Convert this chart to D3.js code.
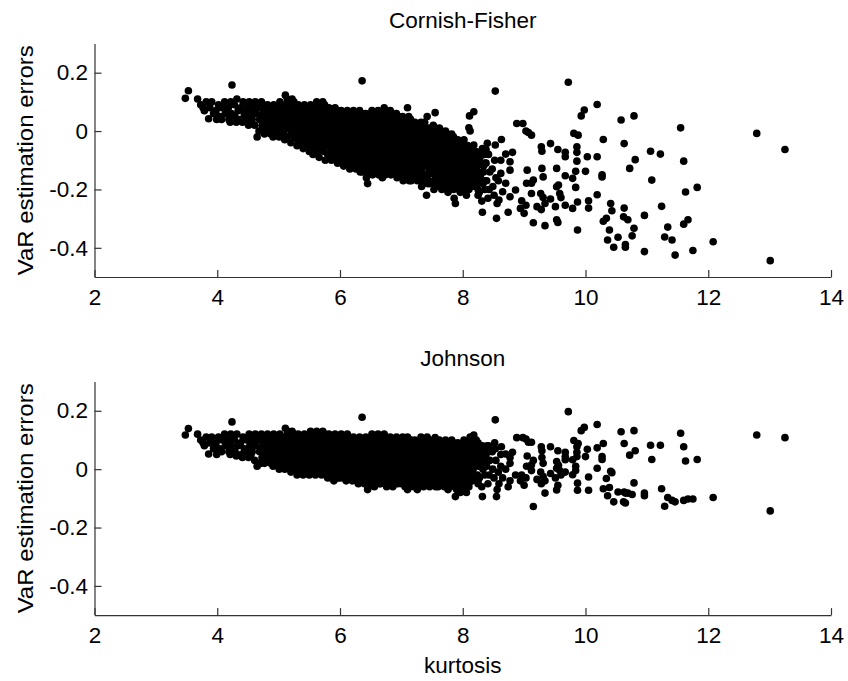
<!DOCTYPE html>
<html>
<head>
<meta charset="utf-8">
<script src="https://cdn.jsdelivr.net/npm/d3@7"></script>
<style>
	body { margin: 0; background: #fff; }
	text { font-family: Arial, "Liberation Sans", sans-serif; fill: #000; }
</style>
</head>
<body>
<svg id="chart" width="848" height="681"></svg>
<script>
// [kurtosis, Cornish-Fisher error, Johnson error] - dense part of the cloud
var coreSamples = [
	[3.48,0.112,0.117],[3.53,0.138,0.139],
	[3.68,0.11,0.12],[3.73,0.09,0.10],[3.77,0.08,0.09],[3.86,0.042,0.052],[3.82,0.10,0.11],[3.79,0.07,0.08],
	[3.91,0.10,0.11],[3.88,0.08,0.09],[3.94,0.06,0.07],
	[4.02,0.09,0.11],[3.98,0.07,0.09],[4.04,0.05,0.07],[3.99,0.04,0.05],
	[4.12,0.10,0.12],[4.08,0.08,0.10],[4.13,0.06,0.08],[4.07,0.04,0.06],
	[4.24,0.158,0.162],
	[4.22,0.10,0.12],[4.18,0.08,0.10],[4.23,0.06,0.08],[4.19,0.04,0.06],[4.21,0.03,0.05],
	[4.32,0.11,0.12],[4.28,0.09,0.10],[4.34,0.07,0.08],[4.29,0.05,0.06],[4.31,0.03,0.045],
	[4.42,0.10,0.11],[4.38,0.08,0.09],[4.44,0.06,0.07],[4.39,0.04,0.05],[4.41,0.03,0.04],
	[4.52,0.10,0.12],[4.48,0.08,0.10],[4.53,0.06,0.08],[4.47,0.04,0.06],[4.51,0.02,0.04],
	[4.62,0.10,0.12],[4.58,0.08,0.10],[4.63,0.06,0.08],[4.57,0.04,0.06],[4.61,0.02,0.03],
	[4.65,-0.02,0.01],[4.68,0.0,0.02],
	[4.72,0.10,0.12],[4.68,0.08,0.10],[4.74,0.06,0.08],[4.69,0.04,0.06],[4.73,0.02,0.04],[4.71,0.0,0.02],
	[4.82,0.09,0.12],[4.78,0.07,0.10],[4.84,0.05,0.08],[4.79,0.03,0.06],[4.83,0.01,0.04],[4.77,-0.01,0.02],
	[4.92,0.09,0.12],[4.88,0.07,0.10],[4.94,0.05,0.08],[4.89,0.03,0.06],[4.93,0.01,0.04],[4.87,-0.01,0.02],[4.91,-0.02,0.01],
	[5.02,0.10,0.12],[4.98,0.08,0.10],[5.04,0.06,0.08],[4.99,0.04,0.06],[5.03,0.02,0.04],[4.97,0.0,0.02],[5.01,-0.02,0.0],
	[5.11,0.123,0.14],[5.14,0.11,0.12],[5.08,0.08,0.10],[5.13,0.06,0.08],[5.07,0.04,0.06],[5.12,0.02,0.04],[5.09,0.0,0.02],[5.10,-0.03,0.0],
	[5.22,0.11,0.13],[5.18,0.09,0.11],[5.24,0.07,0.09],[5.19,0.05,0.07],[5.23,0.03,0.05],[5.17,0.01,0.03],[5.21,-0.01,0.01],[5.20,-0.04,-0.01],
	[5.32,0.09,0.12],[5.28,0.07,0.10],[5.34,0.05,0.08],[5.29,0.03,0.06],[5.33,0.01,0.04],[5.27,-0.01,0.02],[5.31,-0.03,0.0],[5.30,-0.05,-0.02],
	[5.42,0.09,0.12],[5.38,0.07,0.10],[5.44,0.05,0.08],[5.39,0.03,0.06],[5.43,0.01,0.04],[5.37,-0.01,0.02],[5.41,-0.03,0.0],[5.45,-0.05,-0.01],[5.40,-0.06,-0.02],
	[5.52,0.09,0.13],[5.48,0.07,0.11],[5.54,0.05,0.09],[5.49,0.03,0.07],[5.53,0.01,0.05],[5.47,-0.01,0.03],[5.51,-0.03,0.01],[5.55,-0.05,-0.01],[5.50,-0.07,-0.02],
	[5.62,0.10,0.13],[5.58,0.08,0.11],[5.64,0.06,0.09],[5.59,0.04,0.07],[5.63,0.02,0.05],[5.57,0.0,0.03],[5.61,-0.02,0.01],[5.65,-0.04,-0.01],[5.60,-0.06,-0.02],[5.56,-0.08,0.0],
	[5.72,0.10,0.13],[5.68,0.08,0.11],[5.74,0.06,0.09],[5.69,0.04,0.07],[5.73,0.02,0.05],[5.67,0.0,0.03],[5.71,-0.02,0.01],[5.75,-0.04,-0.01],[5.70,-0.06,-0.02],[5.66,-0.09,0.04],
	[5.82,0.08,0.12],[5.78,0.06,0.10],[5.84,0.04,0.08],[5.79,0.02,0.06],[5.83,0.0,0.04],[5.77,-0.02,0.02],[5.81,-0.04,0.0],[5.85,-0.06,-0.02],[5.80,-0.08,-0.03],[5.76,-0.10,0.05],
	[5.92,0.08,0.12],[5.88,0.06,0.10],[5.94,0.04,0.08],[5.89,0.02,0.06],[5.93,0.0,0.04],[5.87,-0.02,0.02],[5.91,-0.04,0.0],[5.95,-0.06,-0.02],[5.90,-0.08,-0.04],[5.86,-0.10,0.07],[5.96,-0.11,0.03],
	[6.02,0.07,0.12],[5.98,0.05,0.10],[6.04,0.03,0.08],[5.99,0.01,0.06],[6.03,-0.01,0.04],[5.97,-0.03,0.02],[6.01,-0.05,0.0],[6.05,-0.07,-0.02],[6.00,-0.09,-0.03],[6.06,-0.11,0.05],
	[6.12,0.07,0.12],[6.08,0.05,0.10],[6.14,0.03,0.08],[6.09,0.01,0.06],[6.13,-0.01,0.04],[6.07,-0.03,0.02],[6.11,-0.05,0.0],[6.15,-0.07,-0.02],[6.10,-0.09,-0.04],[6.16,-0.11,0.05],[6.06,-0.12,0.03],
	[6.22,0.07,0.11],[6.18,0.05,0.09],[6.24,0.03,0.07],[6.19,0.01,0.05],[6.23,-0.01,0.03],[6.17,-0.03,0.01],[6.21,-0.05,-0.01],[6.25,-0.07,-0.03],[6.20,-0.09,-0.04],[6.26,-0.11,0.06],[6.16,-0.13,0.02],
	[6.32,0.07,0.11],[6.28,0.05,0.09],[6.34,0.03,0.07],[6.29,0.01,0.05],[6.33,-0.01,0.03],[6.27,-0.03,0.01],[6.31,-0.05,-0.01],[6.35,-0.07,-0.03],[6.30,-0.09,-0.05],[6.36,-0.11,0.06],[6.26,-0.13,0.02],[6.33,-0.14,0.04],
	[6.36,0.172,0.178],
	[6.42,0.06,0.11],[6.38,0.04,0.09],[6.44,0.02,0.07],[6.39,0.0,0.05],[6.43,-0.02,0.03],[6.37,-0.04,0.01],[6.41,-0.06,-0.01],[6.45,-0.08,-0.03],[6.40,-0.10,-0.05],[6.46,-0.12,-0.06],[6.36,-0.14,0.06],[6.43,-0.16,0.02],
	[6.45,-0.18,-0.07],
	[6.52,0.07,0.12],[6.48,0.05,0.10],[6.54,0.03,0.08],[6.49,0.01,0.06],[6.53,-0.01,0.04],[6.47,-0.03,0.02],[6.51,-0.05,0.0],[6.55,-0.07,-0.02],[6.50,-0.09,-0.04],[6.56,-0.11,-0.06],[6.46,-0.13,0.05],[6.53,-0.15,0.03],
	[6.62,0.07,0.12],[6.58,0.05,0.10],[6.64,0.03,0.08],[6.59,0.01,0.06],[6.63,-0.01,0.04],[6.57,-0.03,0.02],[6.61,-0.05,0.0],[6.65,-0.07,-0.02],[6.60,-0.09,-0.04],[6.66,-0.11,-0.05],[6.56,-0.13,0.07],[6.63,-0.15,0.01],
	[6.72,0.08,0.12],[6.68,0.06,0.10],[6.74,0.04,0.08],[6.69,0.02,0.06],[6.73,0.0,0.04],[6.67,-0.02,0.02],[6.71,-0.04,0.0],[6.75,-0.06,-0.02],[6.70,-0.08,-0.04],[6.76,-0.10,-0.06],[6.66,-0.12,0.05],[6.73,-0.14,0.03],[6.69,-0.16,0.01],
	[6.82,0.07,0.11],[6.78,0.05,0.09],[6.84,0.03,0.07],[6.79,0.01,0.05],[6.83,-0.01,0.03],[6.77,-0.03,0.01],[6.81,-0.05,-0.01],[6.85,-0.07,-0.03],[6.80,-0.09,-0.05],[6.86,-0.11,-0.06],[6.76,-0.13,0.06],[6.83,-0.15,0.02],
	[6.92,0.06,0.11],[6.88,0.04,0.09],[6.94,0.02,0.07],[6.89,0.0,0.05],[6.93,-0.02,0.03],[6.87,-0.04,0.01],[6.91,-0.06,-0.01],[6.95,-0.08,-0.03],[6.90,-0.10,-0.05],[6.96,-0.12,0.06],[6.86,-0.14,0.02],[6.93,-0.16,0.0],
	[7.02,0.05,0.11],[6.98,0.03,0.09],[7.04,0.01,0.07],[6.99,-0.01,0.05],[7.03,-0.03,0.03],[6.97,-0.05,0.01],[7.01,-0.07,-0.01],[7.05,-0.09,-0.03],[7.00,-0.11,-0.05],[7.06,-0.13,-0.06],[6.96,-0.15,0.04],[7.03,-0.17,0.0],
	[7.10,0.08,0.11],[7.12,0.05,0.09],[7.08,0.03,0.07],[7.14,0.01,0.05],[7.09,-0.01,0.03],[7.13,-0.03,0.01],[7.07,-0.05,-0.01],[7.11,-0.07,-0.03],[7.15,-0.09,-0.05],[7.10,-0.11,-0.07],[7.16,-0.13,0.06],[7.06,-0.15,0.02],[7.13,-0.17,0.0],
	[7.22,0.03,0.10],[7.18,0.01,0.08],[7.24,-0.01,0.06],[7.19,-0.03,0.04],[7.23,-0.05,0.02],[7.17,-0.07,0.0],[7.21,-0.09,-0.02],[7.25,-0.11,-0.04],[7.20,-0.13,-0.06],[7.26,-0.15,-0.07],[7.16,-0.17,0.05],
	[7.32,0.03,0.11],[7.28,0.01,0.09],[7.34,-0.01,0.07],[7.29,-0.03,0.05],[7.33,-0.05,0.03],[7.27,-0.07,0.01],[7.31,-0.09,-0.01],[7.35,-0.11,-0.03],[7.30,-0.13,-0.05],[7.36,-0.15,-0.06],[7.26,-0.17,0.04],[7.33,-0.19,0.0],
	[7.42,0.05,0.11],[7.38,0.03,0.09],[7.44,0.0,0.07],[7.39,-0.02,0.05],[7.43,-0.04,0.03],[7.37,-0.06,0.01],[7.41,-0.08,-0.01],[7.45,-0.10,-0.03],[7.40,-0.12,-0.05],[7.46,-0.14,-0.06],[7.36,-0.16,0.04],[7.43,-0.18,0.02],[7.41,-0.22,-0.02],
	[7.52,0.02,0.10],[7.48,0.0,0.08],[7.54,-0.02,0.06],[7.49,-0.04,0.04],[7.53,-0.06,0.02],[7.47,-0.08,0.0],[7.51,-0.10,-0.02],[7.55,-0.12,-0.04],[7.50,-0.14,-0.05],[7.56,-0.16,-0.06],[7.46,-0.18,0.05],[7.53,-0.20,0.01],
	[7.62,0.01,0.10],[7.58,-0.01,0.08],[7.64,-0.03,0.06],[7.59,-0.05,0.04],[7.63,-0.07,0.02],[7.57,-0.09,0.0],[7.61,-0.11,-0.02],[7.65,-0.13,-0.04],[7.60,-0.15,-0.06],[7.66,-0.17,0.03],[7.56,-0.19,-0.01],
	[7.72,0.0,0.10],[7.68,-0.02,0.08],[7.74,-0.04,0.06],[7.69,-0.06,0.04],[7.73,-0.08,0.02],[7.67,-0.10,0.0],[7.71,-0.12,-0.02],[7.75,-0.14,-0.04],[7.70,-0.16,-0.06],[7.76,-0.18,0.05],[7.66,-0.20,0.01],
	[7.82,-0.01,0.10],[7.78,-0.03,0.08],[7.84,-0.05,0.06],[7.79,-0.07,0.04],[7.83,-0.09,0.02],[7.77,-0.11,0.0],[7.81,-0.13,-0.02],[7.85,-0.15,-0.04],[7.80,-0.17,-0.06],[7.86,-0.19,0.03],[7.76,-0.21,-0.07],
	[7.92,-0.03,0.09],[7.88,-0.05,0.07],[7.94,-0.07,0.05],[7.89,-0.09,0.03],[7.93,-0.11,0.01],[7.87,-0.13,-0.01],[7.91,-0.15,-0.03],[7.95,-0.17,-0.05],[7.90,-0.19,-0.07],[7.96,-0.21,-0.08],[7.86,-0.23,0.02],
	[8.02,-0.03,0.10],[7.98,-0.06,0.08],[8.04,-0.08,0.06],[7.99,-0.10,0.04],[8.03,-0.12,0.02],[7.97,-0.14,0.0],[8.01,-0.16,-0.02],[8.05,-0.18,-0.04],[8.00,-0.20,-0.06],[8.06,-0.22,-0.08],
	[8.12,0.0,0.11],[8.08,-0.05,0.09],[8.14,-0.08,0.07],[8.09,-0.10,0.05],[8.13,-0.12,0.03],[8.07,-0.14,0.01],[8.11,-0.16,-0.01],[8.15,-0.18,-0.04],[8.10,-0.20,-0.06],
	[8.22,-0.07,0.10],[8.18,-0.09,0.08],[8.24,-0.11,0.06],[8.19,-0.13,0.04],[8.23,-0.15,0.02],[8.17,-0.17,0.0],[8.21,-0.19,-0.03],[8.25,-0.22,-0.05],
	[8.32,-0.06,0.08],[8.28,-0.09,0.06],[8.34,-0.12,0.04],[8.29,-0.15,0.02],[8.33,-0.18,0.0],[8.27,-0.21,-0.03],[8.31,-0.24,-0.06],
	[8.42,-0.08,0.08],[8.38,-0.11,0.05],[8.44,-0.14,0.03],[8.39,-0.17,0.01],[8.43,-0.20,-0.02],[8.41,-0.23,-0.05],
	[8.52,-0.10,0.09],[8.48,-0.13,0.06],[8.54,-0.16,0.03],[8.49,-0.19,0.0],[8.51,-0.22,-0.03],
	[8.62,-0.10,0.05],[8.58,-0.17,-0.01]
];

// [kurtosis, Cornish-Fisher error, Johnson error] - points packed between the columns above
var coreInfill = [
	[4.55,0.09,0.11],[4.56,0.07,0.09],[4.54,0.05,0.07],[4.55,0.03,0.05],
	[4.75,0.09,0.11],[4.76,0.07,0.09],[4.74,0.05,0.07],[4.75,0.03,0.05],[4.76,0.01,0.03],
	[4.85,0.08,0.11],[4.86,0.06,0.09],[4.84,0.04,0.07],[4.85,0.02,0.05],[4.86,0.0,0.03],
	[4.95,0.08,0.11],[4.96,0.06,0.09],[4.94,0.04,0.07],[4.95,0.02,0.05],[4.96,0.0,0.03],
	[5.05,0.09,0.11],[5.06,0.07,0.09],[5.04,0.05,0.07],[5.05,0.03,0.05],[5.06,0.01,0.03],[5.04,-0.01,0.01],
	[5.15,0.10,0.13],[5.16,0.07,0.11],[5.14,0.05,0.09],[5.15,0.03,0.07],[5.16,0.01,0.05],[5.14,-0.02,0.01],
	[5.25,0.10,0.12],[5.26,0.08,0.10],[5.24,0.06,0.08],[5.25,0.04,0.06],[5.26,0.02,0.04],[5.24,0.0,0.02],[5.25,-0.02,0.0],
	[5.35,0.08,0.11],[5.36,0.06,0.09],[5.34,0.04,0.07],[5.35,0.02,0.05],[5.36,0.0,0.03],[5.34,-0.02,0.01],[5.35,-0.04,-0.01],
	[5.45,0.08,0.11],[5.46,0.06,0.09],[5.44,0.04,0.07],[5.45,0.02,0.05],[5.46,0.0,0.03],[5.44,-0.02,0.01],[5.45,-0.04,-0.01],
	[5.55,0.08,0.12],[5.56,0.06,0.10],[5.54,0.04,0.08],[5.55,0.02,0.06],[5.56,0.0,0.04],[5.54,-0.02,0.02],[5.55,-0.04,0.0],[5.56,-0.06,-0.01],
	[5.65,0.09,0.12],[5.66,0.07,0.10],[5.64,0.05,0.08],[5.65,0.03,0.06],[5.66,0.01,0.04],[5.64,-0.01,0.02],[5.65,-0.03,0.0],[5.66,-0.05,-0.01],[5.64,-0.07,0.12],
	[5.75,0.09,0.12],[5.76,0.07,0.10],[5.74,0.05,0.08],[5.75,0.03,0.06],[5.76,0.01,0.04],[5.74,-0.01,0.02],[5.75,-0.03,0.0],[5.76,-0.05,-0.01],[5.74,-0.07,0.11],
	[5.85,0.07,0.11],[5.86,0.05,0.09],[5.84,0.03,0.07],[5.85,0.01,0.05],[5.86,-0.01,0.03],[5.84,-0.03,0.01],[5.85,-0.05,-0.01],[5.86,-0.07,-0.03],[5.84,-0.09,0.11],
	[5.95,0.07,0.11],[5.96,0.05,0.09],[5.94,0.03,0.07],[5.95,0.01,0.05],[5.96,-0.01,0.03],[5.94,-0.03,0.01],[5.95,-0.05,-0.01],[5.96,-0.07,-0.03],[5.94,-0.09,0.11],[5.95,-0.10,0.06],
	[6.05,0.06,0.11],[6.06,0.04,0.09],[6.04,0.02,0.07],[6.05,0.0,0.05],[6.06,-0.02,0.03],[6.04,-0.04,0.01],[6.05,-0.06,-0.01],[6.06,-0.08,-0.03],[6.04,-0.10,0.11],
	[6.15,0.06,0.11],[6.16,0.04,0.09],[6.14,0.02,0.07],[6.15,0.0,0.05],[6.16,-0.02,0.03],[6.14,-0.04,0.01],[6.15,-0.06,-0.01],[6.16,-0.08,-0.03],[6.14,-0.10,0.11],[6.15,-0.11,0.06],
	[6.25,0.06,0.10],[6.26,0.04,0.08],[6.24,0.02,0.06],[6.25,0.0,0.04],[6.26,-0.02,0.02],[6.24,-0.04,0.0],[6.25,-0.06,-0.02],[6.26,-0.08,-0.04],[6.24,-0.10,0.10],[6.25,-0.12,0.05],
	[6.35,0.06,0.10],[6.36,0.04,0.08],[6.34,0.02,0.06],[6.35,0.0,0.04],[6.36,-0.02,0.02],[6.34,-0.04,0.0],[6.35,-0.06,-0.02],[6.36,-0.08,-0.04],[6.34,-0.10,0.10],[6.35,-0.12,0.05],
	[6.45,0.05,0.10],[6.46,0.03,0.08],[6.44,0.01,0.06],[6.45,-0.01,0.04],[6.46,-0.03,0.02],[6.44,-0.05,0.0],[6.45,-0.07,-0.02],[6.46,-0.09,-0.04],[6.44,-0.11,-0.05],[6.45,-0.13,0.10],[6.46,-0.15,0.05],
	[6.55,0.06,0.11],[6.56,0.04,0.09],[6.54,0.02,0.07],[6.55,0.0,0.05],[6.56,-0.02,0.03],[6.54,-0.04,0.01],[6.55,-0.06,-0.01],[6.56,-0.08,-0.03],[6.54,-0.10,-0.05],[6.55,-0.12,0.11],[6.56,-0.14,0.06],
	[6.65,0.06,0.11],[6.66,0.04,0.09],[6.64,0.02,0.07],[6.65,0.0,0.05],[6.66,-0.02,0.03],[6.64,-0.04,0.01],[6.65,-0.06,-0.01],[6.66,-0.08,-0.03],[6.64,-0.10,-0.05],[6.65,-0.12,0.11],[6.66,-0.14,0.06],
	[6.75,0.07,0.11],[6.76,0.05,0.09],[6.74,0.03,0.07],[6.75,0.01,0.05],[6.76,-0.01,0.03],[6.74,-0.03,0.01],[6.75,-0.05,-0.01],[6.76,-0.07,-0.03],[6.74,-0.09,-0.05],[6.75,-0.11,0.11],[6.76,-0.13,0.06],[6.74,-0.15,0.02],
	[6.85,0.06,0.10],[6.86,0.04,0.08],[6.84,0.02,0.06],[6.85,0.0,0.04],[6.86,-0.02,0.02],[6.84,-0.04,0.0],[6.85,-0.06,-0.02],[6.86,-0.08,-0.04],[6.84,-0.10,-0.05],[6.85,-0.12,0.10],[6.86,-0.14,0.05],
	[6.95,0.05,0.10],[6.96,0.03,0.08],[6.94,0.01,0.06],[6.95,-0.01,0.04],[6.96,-0.03,0.02],[6.94,-0.05,0.0],[6.95,-0.07,-0.02],[6.96,-0.09,-0.04],[6.94,-0.11,-0.05],[6.95,-0.13,0.10],[6.96,-0.15,0.05],
	[7.05,0.04,0.10],[7.06,0.02,0.08],[7.04,0.0,0.06],[7.05,-0.02,0.04],[7.06,-0.04,0.02],[7.04,-0.06,0.0],[7.05,-0.08,-0.02],[7.06,-0.10,-0.04],[7.04,-0.12,-0.05],[7.05,-0.14,0.10],[7.06,-0.16,0.05],
	[7.15,0.04,0.10],[7.16,0.02,0.08],[7.14,0.0,0.06],[7.15,-0.02,0.04],[7.16,-0.04,0.02],[7.14,-0.06,0.0],[7.15,-0.08,-0.02],[7.16,-0.10,-0.04],[7.14,-0.12,-0.06],[7.15,-0.14,0.10],[7.16,-0.16,0.05],
	[7.25,0.02,0.09],[7.26,0.0,0.07],[7.24,-0.02,0.05],[7.25,-0.04,0.03],[7.26,-0.06,0.01],[7.24,-0.08,-0.01],[7.25,-0.10,-0.03],[7.26,-0.12,-0.05],[7.24,-0.14,0.09],[7.25,-0.16,0.04],
	[7.35,0.02,0.10],[7.36,0.0,0.08],[7.34,-0.02,0.06],[7.35,-0.04,0.04],[7.36,-0.06,0.02],[7.34,-0.08,0.0],[7.35,-0.10,-0.02],[7.36,-0.12,-0.04],[7.34,-0.14,-0.05],[7.35,-0.16,0.10],[7.36,-0.18,0.05],
	[7.45,0.01,0.10],[7.46,-0.01,0.08],[7.44,-0.03,0.06],[7.45,-0.05,0.04],[7.46,-0.07,0.02],[7.44,-0.09,0.0],[7.45,-0.11,-0.02],[7.46,-0.13,-0.04],[7.44,-0.15,0.10],[7.45,-0.17,0.05],
	[7.55,0.01,0.09],[7.56,-0.01,0.07],[7.54,-0.03,0.05],[7.55,-0.05,0.03],[7.56,-0.07,0.01],[7.54,-0.09,-0.01],[7.55,-0.11,-0.03],[7.56,-0.13,-0.05],[7.54,-0.15,0.09],[7.55,-0.17,0.04],[7.56,-0.19,0.0],
	[7.65,0.0,0.09],[7.66,-0.02,0.07],[7.64,-0.04,0.05],[7.65,-0.06,0.03],[7.66,-0.08,0.01],[7.64,-0.10,-0.01],[7.65,-0.12,-0.03],[7.66,-0.14,-0.05],[7.64,-0.16,0.09],[7.65,-0.18,0.04],
	[7.75,-0.01,0.09],[7.76,-0.03,0.07],[7.74,-0.05,0.05],[7.75,-0.07,0.03],[7.76,-0.09,0.01],[7.74,-0.11,-0.01],[7.75,-0.13,-0.03],[7.76,-0.15,-0.05],[7.74,-0.17,0.09],[7.75,-0.19,0.04],
	[7.85,-0.02,0.09],[7.86,-0.04,0.07],[7.84,-0.06,0.05],[7.85,-0.08,0.03],[7.86,-0.10,0.01],[7.84,-0.12,-0.01],[7.85,-0.14,-0.03],[7.86,-0.16,-0.05],[7.84,-0.18,0.09],[7.85,-0.20,0.04],
	[7.95,-0.04,0.08],[7.96,-0.06,0.06],[7.94,-0.08,0.04],[7.95,-0.10,0.02],[7.96,-0.12,0.0],[7.94,-0.14,-0.02],[7.95,-0.16,-0.04],[7.96,-0.18,-0.06],[7.94,-0.20,0.08],
	[8.05,-0.05,0.09],[8.06,-0.07,0.07],[8.04,-0.09,0.05],[8.05,-0.11,0.03],[8.06,-0.13,0.01],[8.04,-0.15,-0.01],[8.05,-0.17,-0.03],[8.06,-0.19,-0.05],
	[8.15,-0.06,0.09],[8.16,-0.09,0.07],[8.14,-0.11,0.05],[8.15,-0.13,0.03],[8.16,-0.15,0.01],[8.14,-0.17,-0.02],[8.15,-0.19,-0.04],
	[8.25,-0.08,0.09],[8.26,-0.10,0.07],[8.24,-0.12,0.05],[8.25,-0.14,0.03],[8.26,-0.16,0.01],[8.24,-0.18,-0.02],[8.25,-0.20,-0.04],
	[8.35,-0.08,0.07],[8.36,-0.11,0.05],[8.34,-0.14,0.03],[8.35,-0.17,0.01],[8.36,-0.20,-0.02]
];

// [kurtosis, Cornish-Fisher error, Johnson error] - sparse high-kurtosis tail
var tailSamples = [
	[8.53,0.137,0.169],[9.72,0.167,0.197],[10.19,0.091,0.153],[9.98,0.072,0.143],[9.93,0.052,0.132],
	[10.58,0.038,0.128],[10.79,0.052,0.132],[11.55,0.011,0.123],[12.79,-0.008,0.117],[13.25,-0.063,0.108],
	[8.88,0.026,0.108],[8.98,0.026,0.108],[9.03,0.0,0.103],[9.07,-0.005,0.092],[9.12,-0.014,0.092],
	[10.29,-0.029,0.088],[9.81,-0.008,0.098],[9.88,-0.014,0.088],[10.63,-0.043,0.088],
	[9.86,-0.054,0.077],[9.86,-0.073,0.058],[9.86,-0.103,0.043],[10.03,-0.088,0.068],[10.19,-0.088,0.073],
	[11.06,-0.069,0.082],[11.22,-0.079,0.082],[10.81,-0.098,0.063],[10.72,-0.128,0.048],[11.60,-0.103,0.077],
	[10.00,-0.138,0.043],[10.27,-0.150,0.043],[10.27,-0.157,0.033],[11.08,-0.168,0.033],[11.63,-0.209,0.028],
	[11.82,-0.193,0.033],[10.19,-0.218,0.003],[10.05,-0.239,-0.027],[10.05,-0.264,-0.072],[10.41,-0.248,-0.007],
	[10.43,-0.273,-0.012],[10.63,-0.264,-0.078],[11.24,-0.258,-0.067],[10.96,-0.289,-0.082],[10.62,-0.294,-0.112],
	[10.69,-0.304,-0.082],[10.34,-0.299,-0.032],[10.29,-0.309,-0.067],[10.79,-0.333,-0.047],[10.39,-0.339,-0.063],
	[11.67,-0.304,-0.102],[11.60,-0.319,-0.107],[11.34,-0.329,-0.097],[10.76,-0.359,-0.087],[11.29,-0.363,-0.127],
	[11.41,-0.373,-0.107],[10.36,-0.373,-0.091],[10.53,-0.364,-0.078],[12.08,-0.379,-0.097],[10.65,-0.389,-0.082],
	[10.65,-0.398,-0.116],[10.46,-0.398,-0.112],[10.96,-0.413,-0.091],[11.75,-0.409,-0.102],[11.46,-0.425,-0.112],
	[13.01,-0.444,-0.143],
	[9.87,-0.339,-0.072],[9.55,-0.313,-0.055],[9.53,-0.304,-0.071],[9.34,-0.324,-0.082],[9.15,-0.314,-0.128],
	[9.28,-0.054,0.077],[9.29,-0.069,0.063],[9.43,-0.043,0.077],[9.55,-0.063,0.063],[9.67,-0.073,0.058],
	[9.67,-0.088,0.043],[9.67,-0.153,0.032],[9.79,-0.162,0.032],[9.84,-0.138,0.01],[9.84,-0.193,-0.005],
	[9.87,-0.243,-0.048],[9.79,-0.265,-0.019],[9.67,-0.254,-0.01],[9.53,-0.128,0.026],[9.53,-0.191,0.003],
	[9.56,-0.185,0.013],[9.58,-0.214,-0.005],[9.60,-0.228,-0.02],[9.51,-0.259,-0.03],[9.43,-0.233,-0.015],
	[9.29,-0.128,0.04],[9.31,-0.157,0.02],[9.27,-0.214,-0.01],[9.31,-0.228,-0.025],[9.34,-0.248,-0.04],
	[9.28,-0.269,-0.05],[9.15,-0.168,0.03],[9.12,-0.179,0.015],[9.05,-0.134,0.045],[9.04,-0.179,0.01],
	[9.12,-0.214,-0.005],[9.03,-0.254,-0.03],[8.96,-0.239,-0.02],[9.00,-0.282,-0.055],[8.94,-0.265,-0.04],
	[9.21,-0.259,-0.035],
	[8.70,-0.079,0.052],[8.81,-0.073,0.058],[8.63,-0.029,0.077],[8.53,-0.048,0.07],[8.40,-0.042,0.08],
	[8.38,-0.063,0.06],[8.18,-0.048,0.05],[8.18,0.066,0.117],[8.11,0.052,0.10],[8.10,0.011,0.09],
	[7.55,0.063,0.108],[7.88,-0.248,-0.094],[8.32,-0.278,-0.094],[8.55,-0.299,-0.094],[8.74,-0.278,-0.06],
	[8.86,-0.202,-0.02],[8.77,-0.225,-0.04],[8.70,-0.179,0.0],[8.77,-0.134,0.02],[8.77,-0.105,0.04],
	[8.62,-0.145,0.01],[8.65,-0.208,-0.03],[8.59,-0.236,-0.05],[8.56,-0.248,-0.07]
];

var xTicks = [2, 4, 6, 8, 10, 12, 14];
var yTicks = [-0.4, -0.2, 0, 0.2];
var panelTitles = ['Cornish-Fisher', 'Johnson'];

var samples = coreSamples.concat(coreInfill, tailSamples);
var kurtosis = samples.map(function(d) { return d[0]; });
var errCornishFisher = samples.map(function(d) { return d[1]; });
var errJohnson = samples.map(function(d) { return d[2]; });

/*** Layout ***/
var fontSize = 22.5;
var axisColor = '#333';
var panelHeight = 233.5;
var panelTops = [43.5, 381.6];
var panelErrors = [errCornishFisher, errJohnson];

var svg = d3.select('#chart');

var x = d3.scaleLinear()
	.domain([2, 14])
	.range([94.5, 831]);

function drawPanel(p) {
	var top = panelTops[p];
	var y = d3.scaleLinear()
		.domain([-0.5, 0.3])
		.range([top + panelHeight, top]);
	var g = svg.append('g');

	// points
	g.append('g')
		.selectAll('circle')
		.data(d3.range(kurtosis.length))
		.join('circle')
		.attr('cx', function(i) { return x(kurtosis[i]); })
		.attr('cy', function(i) { return y(panelErrors[p][i]); })
		.attr('r', 3.8)
		.attr('fill', '#000');

	// axes, MATLAB style ticks pointing inwards
	var xAxis = g.append('g')
		.attr('transform', 'translate(0,' + (top + panelHeight) + ')')
		.call(d3.axisBottom(x)
			.tickValues(xTicks)
			.tickSize(-7)
			.tickSizeOuter(0)
			.tickPadding(12.4)
			.tickFormat(function(d) { return String(d); }));

	var yAxis = g.append('g')
		.attr('transform', 'translate(' + x(2) + ',0)')
		.call(d3.axisLeft(y)
			.tickValues(yTicks)
			.tickSize(-7)
			.tickSizeOuter(0)
			.tickPadding(6.5)
			.tickFormat(function(d) { return String(d); }));

	[xAxis, yAxis].forEach(function(a) {
		a.selectAll('path, line')
			.attr('stroke', axisColor)
			.attr('stroke-width', 1.2);
		a.selectAll('text')
			.attr('font-family', 'Arial, "Liberation Sans", sans-serif')
			.attr('font-size', fontSize)
			.attr('fill', '#000');
	});

	// title
	g.append('text')
		.attr('x', (x(2) + x(14)) / 2)
		.attr('y', top - 15.5)
		.attr('text-anchor', 'middle')
		.attr('font-size', fontSize)
		.text(panelTitles[p]);

	// y label
	g.append('text')
		.attr('transform', 'translate(33,' + (top + panelHeight / 2) + ') rotate(-90)')
		.attr('text-anchor', 'middle')
		.attr('font-size', fontSize)
		.attr('textLength', 230)
		.attr('lengthAdjust', 'spacingAndGlyphs')
		.text('VaR estimation errors');
}

drawPanel(0);
drawPanel(1);

svg.append('text')
	.attr('x', (x(2) + x(14)) / 2)
	.attr('y', 672.7)
	.attr('text-anchor', 'middle')
	.attr('font-size', fontSize)
	.text('kurtosis');
</script>
</body>
</html>
